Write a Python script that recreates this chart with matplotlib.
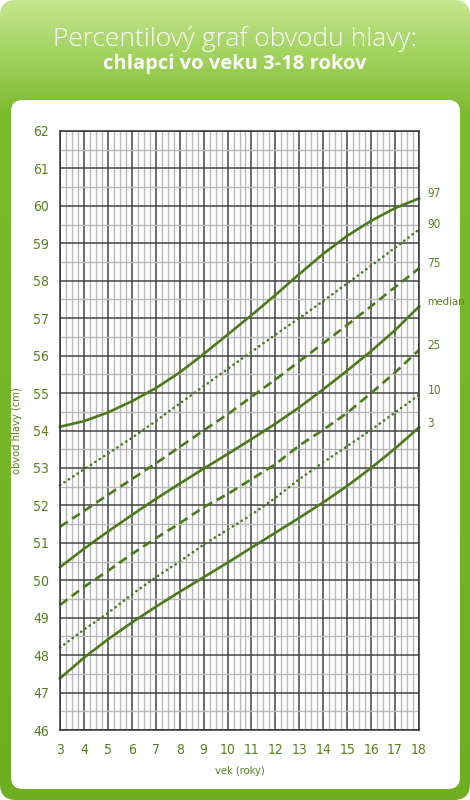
import numpy as np
import matplotlib
matplotlib.use('Agg')
import matplotlib.pyplot as plt
from matplotlib.patches import FancyBboxPatch
from matplotlib.colors import LinearSegmentedColormap

# data (head circumference, boys 3-18 years)
ages = list(range(3, 19))
p97 = [54.10, 54.25, 54.48, 54.78, 55.13, 55.55, 56.04, 56.56,
       57.08, 57.62, 58.18, 58.72, 59.20, 59.60, 59.94, 60.20]
p90 = [52.54, 52.96, 53.38, 53.80, 54.25, 54.72, 55.18, 55.64,
       56.10, 56.56, 57.00, 57.46, 57.93, 58.40, 58.88, 59.37]
p75 = [51.43, 51.85, 52.28, 52.70, 53.12, 53.56, 54.00, 54.43,
       54.90, 55.36, 55.85, 56.33, 56.82, 57.32, 57.83, 58.33]
p50 = [50.35, 50.84, 51.30, 51.74, 52.17, 52.58, 52.98, 53.37,
       53.77, 54.18, 54.62, 55.10, 55.60, 56.12, 56.68, 57.31]
p25 = [49.34, 49.82, 50.25, 50.70, 51.12, 51.52, 51.95, 52.30,
       52.70, 53.10, 53.60, 54.02, 54.47, 55.00, 55.55, 56.15]
p10 = [48.20, 48.68, 49.12, 49.62, 50.08, 50.50, 50.95, 51.35,
       51.75, 52.20, 52.70, 53.15, 53.58, 54.02, 54.48, 54.95]
p3 = [47.38, 47.93, 48.42, 48.87, 49.29, 49.69, 50.08, 50.47,
      50.87, 51.27, 51.67, 52.08, 52.52, 53.00, 53.52, 54.08]

series = [p97, p90, p75, p50, p25, p10, p3]
names = ['97', '90', '75', 'median', '25', '10', '3']
dotted = (0, (0.1, 1.9))
dashed = (0, (3.5, 2))
styles = ['-', dotted, dashed, '-', dashed, dotted, '-']

x_ticks = list(range(3, 19))
y_ticks = list(range(46, 63))

green = '#4b7a1c'
label_green = '#5b7d22'
narrow = dict(family='DejaVu Sans', stretch='condensed')

fig = plt.figure(figsize=(4.7, 8), dpi=100)

# background: green rounded frame with a vertical gradient, white panel
bg = fig.add_axes([0, 0, 1, 1])
bg.set_xlim(0, 470)
bg.set_ylim(800, 0)
bg.axis('off')
cmap = LinearSegmentedColormap.from_list(
    'frame', [(0, '#c2e68c'), (0.14, '#7dbb2e'), (1, '#70ae21')])
grad = np.linspace(0, 1, 400).reshape(-1, 1)
img = bg.imshow(grad, cmap=cmap, extent=[0, 470, 800, 0], aspect='auto')
frame = FancyBboxPatch((0, 0), 470, 800, boxstyle='round,pad=0,rounding_size=16',
                       transform=bg.transData, facecolor='none', edgecolor='none')
bg.add_patch(frame)
img.set_clip_path(frame)
bg.add_patch(FancyBboxPatch((11, 100), 449, 689,
                            boxstyle='round,pad=0,rounding_size=12',
                            facecolor='white', edgecolor='none'))

fig.text(0.5, 1 - 39 / 800, 'Percentilový graf obvodu hlavy:', ha='center', va='center',
         color='white', fontsize=19, family='Open Sans', weight='light')
fig.text(0.5, 1 - 64 / 800, 'chlapci vo veku 3-18 rokov', ha='center', va='center',
         color='white', fontsize=14.5, family='Open Sans', weight='bold')

ax = fig.add_axes([60 / 470, 70 / 800, 359 / 470, 599 / 800])
ax.set_xlim(3, 18)
ax.set_ylim(46, 62)
ax.set_xticks(x_ticks)
ax.set_yticks(y_ticks)
ax.set_xticks(np.arange(3, 18.01, 0.25), minor=True)
ax.set_yticks(np.arange(46, 62.01, 0.5), minor=True)
ax.grid(which='minor', color='#b8b8b8', lw=1.0)
ax.grid(which='major', color='#444444', lw=1.1)
ax.set_axisbelow(True)
ax.tick_params(which='both', length=0)
ax.tick_params(axis='y', pad=8, labelsize=10, labelcolor=label_green)
ax.tick_params(axis='x', pad=9, labelsize=10, labelcolor=label_green)
for lab in ax.get_xticklabels() + ax.get_yticklabels():
    lab.set_family('DejaVu Sans')
    lab.set_stretch('condensed')
for sp in ax.spines.values():
    sp.set_color('#333333')
    sp.set_linewidth(1.1)

for vals, name, ls in zip(series, names, styles):
    ax.plot(ages, vals, color=green, lw=1.9, ls=ls, clip_on=False,
            solid_joinstyle='round',
            dash_capstyle='round' if ls is dotted else 'butt')
    ax.text(18.35, vals[-1] + 0.12, name, color=label_green,
            fontsize=8 if name == 'median' else 8.5, va='center', ha='left', **narrow)

ax.set_xlabel('vek (roky)', color=label_green, fontsize=8, **narrow)
ax.set_ylabel('obvod hlavy (cm)', color=label_green, fontsize=8, **narrow)
ax.xaxis.set_label_coords(0.5, -36 / 599)
ax.yaxis.set_label_coords(-38 / 359, 0.5)

fig.savefig('out.png', dpi=100)
